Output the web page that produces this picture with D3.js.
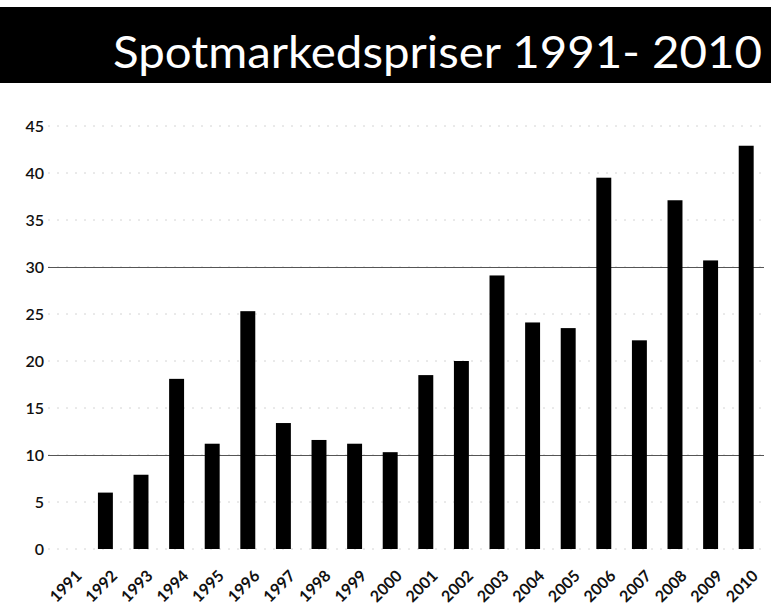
<!DOCTYPE html>
<html>
<head>
<meta charset="utf-8">
<script src="https://cdn.jsdelivr.net/npm/d3@7"></script>
<style>
  body { margin: 0; background: #fff; }
  svg { display: block; font-family: Lato, "Open Sans", sans-serif; }
</style>
</head>
<body>
<svg id="chart" width="771" height="609"></svg>
<script>
// spot prices per year
const years = ["1991", "1992", "1993", "1994", "1995", "1996", "1997", "1998", "1999", "2000",
               "2001", "2002", "2003", "2004", "2005", "2006", "2007", "2008", "2009", "2010"];
const prices = [0, 6.0, 7.9, 18.1, 11.2, 25.3, 13.4, 11.6, 11.2, 10.3,
                18.5, 20.0, 29.1, 24.1, 23.5, 39.5, 22.2, 37.1, 30.7, 42.9];
const yTicks = [0, 5, 10, 15, 20, 25, 30, 35, 40, 45];
const strongLines = [10, 30];
const title = "Spotmarkedspriser 1991- 2010";

const svg = d3.select("#chart");
const width = 771;

// title bar
svg.append("rect")
    .attr("x", 0).attr("y", 7)
    .attr("width", width).attr("height", 76)
    .attr("fill", "#000");

svg.append("text")
    .attr("x", 113).attr("y", 68)
    .attr("fill", "#fff")
    .attr("textLength", 649)
    .attr("lengthAdjust", "spacingAndGlyphs")
    .style("font-size", "45px")
    .text(title);

const plot = { left: 52, right: 764, top: 126, bottom: 549 };

const x = d3.scaleBand()
    .domain(years)
    .range([plot.left, plot.right])
    .paddingInner(0.58)
    .paddingOuter(0.29);

const y = d3.scaleLinear()
    .domain([0, 45])
    .range([plot.bottom, plot.top]);

// grid (very faint in the scan, except 10 and 30)
const grid = svg.append("g");
grid.selectAll("line.minor")
    .data(yTicks)
    .join("line")
    .attr("class", "minor")
    .attr("x1", plot.left - 4).attr("x2", plot.right)
    .attr("y1", d => y(d)).attr("y2", d => y(d))
    .attr("stroke", "#d4d4d4")
    .attr("stroke-width", 1)
    .attr("stroke-dasharray", "2,7");

grid.selectAll("line.strong")
    .data(strongLines)
    .join("line")
    .attr("class", "strong")
    .attr("x1", plot.left - 4).attr("x2", plot.right)
    .attr("y1", d => y(d) + 0.5).attr("y2", d => y(d) + 0.5)
    .attr("stroke", "#555")
    .attr("stroke-width", 1.2);

// bars
svg.append("g")
    .selectAll("rect")
    .data(years.map((yr, i) => ({ yr, v: prices[i] })))
    .join("rect")
    .attr("x", d => x(d.yr))
    .attr("y", d => y(d.v))
    .attr("width", x.bandwidth())
    .attr("height", d => y(0) - y(d.v))
    .attr("fill", "#000");

// y axis
const yAxis = svg.append("g")
    .attr("transform", "translate(" + (plot.left - 6) + ",0)")
    .call(d3.axisLeft(y).tickValues(yTicks).tickSize(0).tickPadding(0));
yAxis.select(".domain").remove();
yAxis.selectAll("text")
    .attr("x", -2)
    .style("font-family", "Lato, 'Open Sans', sans-serif")
    .style("font-size", "16px")
    .style("font-weight", "600")
    .attr("fill", "#111");

// x axis
const xAxis = svg.append("g")
    .attr("transform", "translate(0," + plot.bottom + ")")
    .call(d3.axisBottom(x).tickSize(0).tickPadding(0));
xAxis.select(".domain").remove();
xAxis.selectAll("text")
    .attr("transform", "translate(5,20) rotate(-45)")
    .attr("dy", "0.7em")
    .attr("text-anchor", "end")
    .attr("y", 0)
    .style("font-family", "Lato, 'Open Sans', sans-serif")
    .style("font-size", "16px")
    .style("font-weight", "bold")
    .attr("fill", "#111");
</script>
</body>
</html>
